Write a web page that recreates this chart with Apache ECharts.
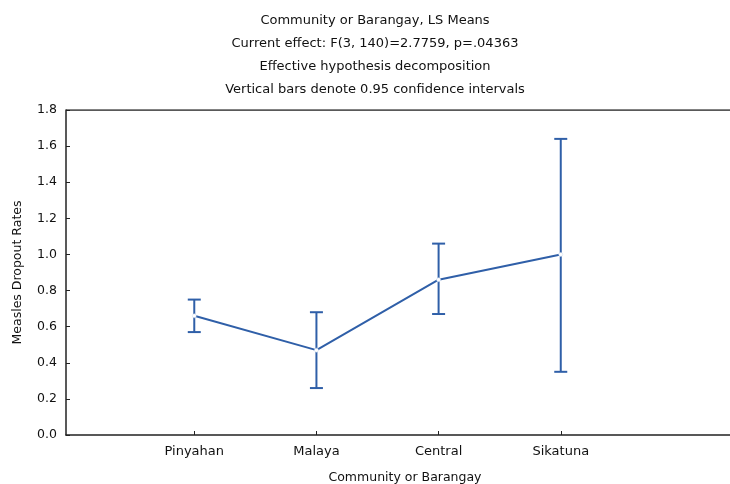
<!DOCTYPE html>
<html>
<head>
<meta charset="utf-8">
<style>
  html, body { margin: 0; padding: 0; background: #ffffff; }
  #chart { width: 730px; height: 484px; }
</style>
<script src="https://cdn.jsdelivr.net/npm/echarts@6/dist/echarts.min.js"></script>
</head>
<body>
<div id="chart"></div>
<script>
// Community LS means with 95% confidence intervals
const categories = ['Pinyahan', 'Malaya', 'Central', 'Sikatuna'];
const means = [0.66, 0.47, 0.86, 1.00];
const lowerCI = [0.57, 0.26, 0.67, 0.35];
const upperCI = [0.75, 0.68, 1.06, 1.64];
const yTicks = [0, 0.2, 0.4, 0.6, 0.8, 1.0, 1.2, 1.4, 1.6, 1.8];
const titleLines = [
  'Community or Barangay, LS Means',
  'Current effect: F(3, 140)=2.7759, p=.04363',
  'Effective hypothesis decomposition',
  'Vertical bars denote 0.95 confidence intervals'
];

const positions = categories.map((_, i) => i + 1);
const lineColor = '#2f5fa8';
const fontFamily = '"DejaVu Sans", "Liberation Sans", Arial, sans-serif';

const chart = echarts.init(document.getElementById('chart'), null, { renderer: 'canvas' });

chart.setOption({
  backgroundColor: '#ffffff',
  animation: false,
  title: {
    text: titleLines.join('\n'),
    left: 370,
    top: 4,
    textAlign: 'center',
    textStyle: {
      fontFamily: fontFamily,
      fontSize: 13,
      fontWeight: 'normal',
      color: '#111111',
      lineHeight: 23
    }
  },
  grid: { left: 66, top: 110, width: 678, height: 325, outerBoundsMode: 'none', containLabel: false },
  xAxis: {
    type: 'value',
    min: -0.05,
    max: 5.5,
    name: 'Community or Barangay',
    nameLocation: 'middle',
    nameGap: 36,
    nameTextStyle: { fontFamily: fontFamily, fontSize: 12.5, color: '#111111' },
    splitLine: { show: false },
    axisLine: { onZero: false, lineStyle: { color: '#222222', width: 1.5 } },
    axisTick: {
      inside: true, length: 4, customValues: positions,
      lineStyle: { color: '#222222', width: 1 }
    },
    axisLabel: {
      customValues: positions,
      margin: 10,
      fontFamily: fontFamily, fontSize: 13, color: '#111111',
      formatter: v => categories[Math.round(v) - 1] || ''
    }
  },
  yAxis: {
    type: 'value',
    min: 0,
    max: 1.8,
    interval: 0.2,
    name: 'Measles Dropout Rates',
    nameLocation: 'middle',
    nameGap: 42,
    nameTextStyle: { fontFamily: fontFamily, fontSize: 12.5, color: '#111111' },
    splitLine: { show: false },
    axisLine: { show: true, onZero: false, lineStyle: { color: '#222222', width: 1.5 } },
    axisTick: {
      inside: true, length: 4, customValues: yTicks,
      lineStyle: { color: '#222222', width: 1 }
    },
    axisLabel: {
      customValues: yTicks,
      margin: 9,
      fontFamily: fontFamily, fontSize: 12.5, color: '#111111',
      formatter: v => v.toFixed(1)
    }
  },
  series: [
    {
      // top border of the plotting frame
      type: 'line',
      data: [[-0.05, 1.8], [5.5, 1.8]],
      symbol: 'none',
      silent: true,
      lineStyle: { color: '#222222', width: 1.5 },
      z: 1
    },
    {
      type: 'custom',
      data: positions.map((p, i) => [p, lowerCI[i], upperCI[i]]),
      renderItem: function (params, api) {
        const x = api.value(0);
        const lo = api.coord([x, api.value(1)]);
        const hi = api.coord([x, api.value(2)]);
        const half = 6.5;
        const style = { stroke: lineColor, lineWidth: 2 };
        return {
          type: 'group',
          children: [
            { type: 'line', shape: { x1: lo[0], y1: lo[1], x2: hi[0], y2: hi[1] }, style: style },
            { type: 'line', shape: { x1: lo[0] - half, y1: lo[1], x2: lo[0] + half, y2: lo[1] }, style: style },
            { type: 'line', shape: { x1: hi[0] - half, y1: hi[1], x2: hi[0] + half, y2: hi[1] }, style: style }
          ]
        };
      },
      z: 2
    },
    {
      type: 'line',
      data: positions.map((p, i) => [p, means[i]]),
      symbol: 'circle',
      symbolSize: 4,
      itemStyle: { color: '#ffffff', borderColor: '#c9d8ee', borderWidth: 0.5 },
      lineStyle: { color: lineColor, width: 2 },
      z: 3
    }
  ]
});
</script>
</body>
</html>
